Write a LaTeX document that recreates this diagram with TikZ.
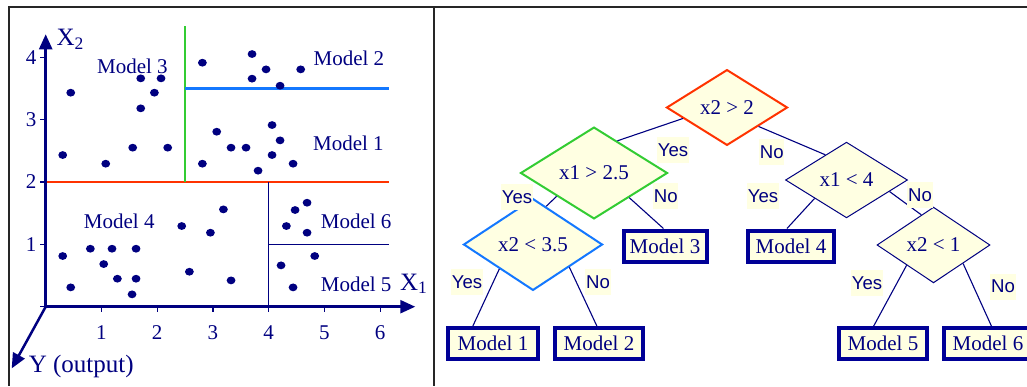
\documentclass[tikz,border=0pt]{standalone}
\usepackage{fontspec}
\setmainfont{Liberation Serif}
\setsansfont{Liberation Sans}
\usepackage{tikz}
\usetikzlibrary{arrows.meta}
\usetikzlibrary{shapes.geometric}
\usepackage{xcolor}
\definecolor{navy}{RGB}{0,0,128}
\definecolor{boxblue}{RGB}{0,0,150}
\definecolor{cream}{RGB}{255,255,226}
\definecolor{cutred}{RGB}{255,51,0}
\definecolor{cutgreen}{RGB}{51,204,51}
\definecolor{cutblue}{RGB}{20,120,255}

\begin{document}
\begin{tikzpicture}[x=0.5pt,y=-0.5pt,
  splitnode/.style={diamond,draw=navy,line width=0.5pt,fill=cream,inner sep=1pt,
    minimum height=31pt,text=navy,font=\fontsize{10.5}{12}\selectfont},
  modelbox/.style={draw=boxblue,line width=2pt,fill=cream,inner sep=1pt,
    minimum width=44pt,minimum height=15.5pt,text=navy,font=\fontsize{10.5}{12}\selectfont},
  yn/.style={fill=cream,inner xsep=0.4pt,inner ysep=1pt,minimum height=13pt,
    text=navy,font=\sffamily\fontsize{9.3}{10}\selectfont},
  treeline/.style={draw=navy,line width=0.55pt},
  plottext/.style={text=navy,font=\fontsize{10.5}{12}\selectfont},
  axis/.style={draw=navy,line width=1.25pt,-{Triangle[length=7.5pt,width=6.5pt]}}]
\useasboundingbox (0,0) rectangle (1027,386);

% ---------- frame ----------
\draw[line width=1pt,black!85] (8,6.5) -- (1027,6.5);
\draw[line width=1pt,black!85] (8.5,6) -- (8.5,386);
\draw[line width=1pt,black!85] (433.5,6) -- (433.5,386);

% ---------- LEFT : partition of the (X1,X2) plane ----------
\begin{scope}[shift={(45.7,306.7)},x=27.87pt,y=31.17pt]
  \draw[cutred,line width=1.3pt]   (0,2)--(6.15,2);       % x2 = 2
  \draw[cutgreen,line width=1.3pt] (2.5,2)--(2.5,4.51);   % x1 = 2.5
  \draw[cutblue,line width=1.3pt]  (2.5,3.5)--(6.15,3.5); % x2 = 3.5
  \draw[navy,line width=0.5pt]     (4,0)--(4,2);          % x1 = 4
  \draw[navy,line width=0.5pt]     (4,1)--(6.15,1);       % x2 = 1

  \draw[axis] (0,0)--(6.63,0);
  \draw[axis] (0,0)--(0,4.37);
  \draw[axis] (0,0)--(-0.61,-0.99);
  \foreach \i in {1,...,6}{
    \draw[navy,line width=0.6pt] (\i,0)--(\i,-0.09);
    \node[plottext] (tx\i) at (\i,-0.41) {\i};
  }
  \draw[navy,line width=0.6pt] (0,0)--(-0.11,0);
  \foreach \j in {1,...,4}{
    \draw[navy,line width=0.6pt] (0,\j)--(-0.11,\j);
    \node[plottext] (ty\j) at (-0.26,\j) {\j};
  }
  \node[text=navy,font=\fontsize{12.5}{14}\selectfont,anchor=west,inner sep=0pt] (xone) at (6.35,0.37) {X\textsubscript{1}};
  \node[text=navy,font=\fontsize{12.5}{14}\selectfont,anchor=west,inner sep=0pt] (xtwo) at (0.19,4.29) {X\textsubscript{2}};
  \node[text=navy,font=\fontsize{12.5}{14}\selectfont,anchor=west,inner sep=0pt] (yout) at (-0.31,-0.96) {Y (output)};

  % data points
  \foreach \px/\py in {0.449/3.433,0.305/2.433,1.077/2.294,1.561/2.551,1.705/3.182,
      1.705/3.663,2.069/3.663,1.950/3.433,2.189/2.551,
      2.811/3.914,3.702/4.053,3.702/3.658,3.953/3.807,4.205/3.545,4.575/3.807,
      3.068/2.807,2.811/2.294,3.325/2.551,3.594/2.551,3.810/2.182,4.061/2.914,
      4.205/2.668,4.061/2.433,4.438/2.294,
      0.305/0.813,0.449/0.310,0.801/0.930,1.041/0.684,1.190/0.930,1.286/0.449,
      1.549/0.198,1.621/0.449,1.621/0.930,2.440/1.294,2.578/0.561,2.955/1.187,
      3.188/1.561,3.325/0.422,
      4.318/1.294,4.474/1.551,4.689/1.668,4.689/1.187,4.827/0.813,4.222/0.663,4.438/0.310}
    \fill[navy] (\px,\py) ellipse[x radius=2.2pt,y radius=1.95pt];

  \node[plottext] (reg3) at (1.555,3.86) {Model 3};
  \node[plottext] (reg2) at (5.44,3.98) {Model 2};
  \node[plottext] (reg1) at (5.43,2.62) {Model 1};
  \node[plottext] (reg4) at (1.32,1.37) {Model 4};
  \node[plottext] (reg6) at (5.57,1.37) {Model 6};
  \node[plottext] (reg5) at (5.57,0.36) {Model 5};
\end{scope}

% ---------- RIGHT : the regression tree ----------
\node[splitnode,draw=cutred,line width=1pt,minimum width=60.5pt]   (c1) at (727,107.5) {x2 > 2};
\node[splitnode,draw=cutgreen,line width=1pt,minimum width=73.5pt] (c2) at (594,173)   {x1 > 2.5};
\node[splitnode,draw=cutblue,line width=1pt,minimum width=69.5pt]  (c3) at (533,244.5) {x2 < 3.5};
\node[splitnode,minimum width=61pt]   (c4) at (846.5,180) {x1 < 4};
\node[splitnode,minimum width=56.5pt] (c5) at (933.5,245) {x2 < 1};

\node[modelbox,minimum width=45pt]   (m1) at (493,343.5) {Model 1};
\node[modelbox]                      (m2) at (599,343.5) {Model 2};
\node[modelbox,minimum width=41.5pt] (m3) at (665,246)   {Model 3};
\node[modelbox,minimum width=43pt]   (m4) at (791,246)   {Model 4};
\node[modelbox]                      (m5) at (883,343.5) {Model 5};
\node[modelbox]                      (m6) at (988,343.5) {Model 6};

\draw[treeline] (c1.194)--(c2.54);
\draw[treeline] (c1.329.5)--(c4.130);
\draw[treeline] (c2.212.6)--(c3.71);
\draw[treeline] (c2.325.5)--(m3.95);
\draw[treeline] (c3.216)--(m1.139);
\draw[treeline] (c3.328.6)--(m2.97);
\draw[treeline] (c4.210)--(m4.103);
\draw[treeline] (c4.345)--(c5.112);
\draw[treeline] (c5.217)--(m5.118);
\draw[treeline] (c5.328)--(m6.79);

\node[yn] (y1) at (673,150)   {Yes};
\node[yn] (n1) at (771.7,152.3) {No};
\node[yn] (y2) at (517,197)   {Yes};
\node[yn] (n2) at (665.7,196.3) {No};
\node[yn] (y4) at (763,196.3) {Yes};
\node[yn] (n4) at (920,195)   {No};
\node[yn] (y3) at (467,281.7) {Yes};
\node[yn] (n3) at (598,281.7) {No};
\node[yn] (y5) at (867,283)   {Yes};
\node[yn] (n5) at (1003,286.5) {No};

\end{tikzpicture}
\end{document}
